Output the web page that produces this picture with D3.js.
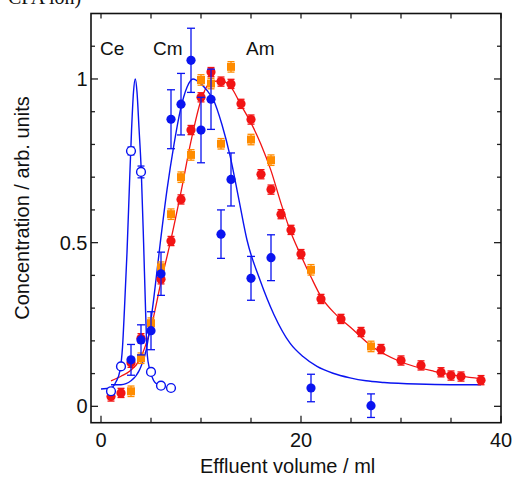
<!DOCTYPE html>
<html>
<head>
<meta charset="utf-8">
<script src="https://cdn.jsdelivr.net/npm/d3@7"></script>
<style>
  body { margin: 0; background: #fff; }
  svg { display: block; }
  text { font-family: "Liberation Sans", Arial, sans-serif; fill: #111; }
</style>
</head>
<body>
<svg id="chart" width="514" height="477"></svg>
<script>
// Am (red circles): [volume ml, concentration]
const amRed = [
  [1, 0.030], [2, 0.041], [3, 0.133], [4, 0.208], [6, 0.388], [7, 0.505],
  [8, 0.632], [9, 0.844], [10, 0.944], [11, 1.021], [12, 0.992], [13, 0.985],
  [14, 0.924], [15, 0.876], [16, 0.709], [17, 0.662], [18, 0.587], [19, 0.539],
  [20, 0.465], [22, 0.328], [24, 0.267], [26, 0.227], [28, 0.175], [30, 0.140],
  [32, 0.125], [34, 0.104], [35, 0.094], [36, 0.091], [38, 0.080]
];
// Am second run (orange squares)
const amOrange = [
  [3, 0.046], [4, 0.147], [5, 0.254], [6, 0.425], [7, 0.587], [8, 0.700],
  [9, 0.768], [10, 0.997], [11, 0.986], [12, 0.802], [13, 1.037], [15, 0.815],
  [17, 0.752], [21, 0.417], [27, 0.183]
];
// Cm (blue filled): [volume, conc, error]
const cmBlue = [
  [3, 0.142, 0.047], [4, 0.203, 0.046], [5, 0.231, 0.058], [6, 0.405, 0.066],
  [7, 0.877, 0.090], [8, 0.923, 0.094], [9, 1.057, 0.098], [10, 0.844, 0.100],
  [11, 0.938, 0.092], [12, 0.526, 0.074], [13, 0.693, 0.081], [15, 0.391, 0.067],
  [17, 0.454, 0.070], [21, 0.056, 0.042], [27, 0.002, 0.036]
];
// Ce (blue open): [volume, conc, error]
const ceOpen = [
  [1, 0.046, 0], [2, 0.122, 0], [3, 0.780, 0.012], [4, 0.716, 0.018],
  [5, 0.105, 0], [6, 0.063, 0], [7, 0.056, 0]
];

// fitted curves
const ceFit = [
  [0, 0.053], [1.0, 0.056], [1.5, 0.075], [1.9, 0.11], [2.15, 0.18], [2.35, 0.30],
  [2.6, 0.47], [2.85, 0.68], [3.05, 0.84], [3.25, 0.96], [3.43, 1.0], [3.6, 0.96],
  [3.8, 0.85], [4.03, 0.716], [4.26, 0.50], [4.45, 0.30], [4.62, 0.16], [4.85, 0.115],
  [5.1, 0.09], [5.5, 0.07], [6.1, 0.065]
];
const cmFit = [
  [1.0, 0.066], [2.0, 0.066], [3.0, 0.078], [3.86, 0.112], [4.53, 0.173], [4.86, 0.234],
  [5.26, 0.325], [5.93, 0.50], [6.6, 0.661], [7.3, 0.80], [7.93, 0.904], [8.6, 0.975],
  [9.2, 1.0], [10.0, 0.985], [10.6, 0.965], [11.26, 0.935], [12.1, 0.86], [12.93, 0.762],
  [13.8, 0.63], [14.6, 0.508], [15.9, 0.386], [17.3, 0.28], [18.9, 0.193], [20.2, 0.152],
  [21.6, 0.122], [23.2, 0.101], [24.9, 0.087], [26.5, 0.078], [28.3, 0.073], [31.6, 0.068],
  [35, 0.066], [38, 0.066]
];
const amFit = [
  [1.0, 0.078], [2.0, 0.092], [2.86, 0.107], [3.86, 0.142], [4.5, 0.19], [5.0, 0.24],
  [6.0, 0.38], [7.0, 0.51], [8.0, 0.655], [9.0, 0.81], [10.0, 0.935], [11.0, 0.99],
  [12.0, 0.994], [13.0, 0.975], [14.0, 0.92], [15.0, 0.866], [16.0, 0.80], [17.0, 0.72],
  [18.0, 0.62], [19.0, 0.53], [20.0, 0.46], [21.0, 0.395], [22.0, 0.335], [23.5, 0.28],
  [25.0, 0.24], [27.0, 0.185], [29.9, 0.137], [33.3, 0.107], [36, 0.092], [38, 0.084]
];

const xTicks = [0, 5, 10, 15, 20, 25, 30, 35, 40];
const xLabels = [0, 20, 40];
const yTicks = [0, 0.1, 0.2, 0.3, 0.4, 0.5, 0.6, 0.7, 0.8, 0.9, 1.0, 1.1];
const yLabels = [0, 0.5, 1];
const peakLabels = [["Ce", 100], ["Cm", 153], ["Am", 246]];

const blue = '#0a14f0', red = '#f21414', orange = '#ff8c00';

const svg = d3.select('#chart');
const box = { left: 91, right: 501, top: 13.5, bottom: 422.7 };

const x = d3.scaleLinear().domain([-1, 40]).range([box.left, box.right]);
const y = d3.scaleLinear().domain([-0.05, 1.2]).range([box.bottom, box.top]);

// clipped caption remnant at very top
svg.append('text')
  .attr('x', 8).attr('y', 4)
  .style('font-family', '"Liberation Serif", serif')
  .style('font-size', '20px')
  .text('CPA ion)');

// axes, ticks inward
const axisG = svg.append('g');
xTicks.forEach(t => {
  const len = xLabels.includes(t) ? 7 : 5;
  axisG.append('line').attr('x1', x(t)).attr('x2', x(t))
    .attr('y1', box.bottom).attr('y2', box.bottom - len).attr('stroke', '#222').attr('stroke-width', 1.3);
  axisG.append('line').attr('x1', x(t)).attr('x2', x(t))
    .attr('y1', box.top).attr('y2', box.top + 5).attr('stroke', '#222').attr('stroke-width', 1.3);
});
yTicks.forEach(t => {
  const len = yLabels.includes(t) ? 7 : 4;
  axisG.append('line').attr('y1', y(t)).attr('y2', y(t))
    .attr('x1', box.left).attr('x2', box.left + len).attr('stroke', '#222').attr('stroke-width', 1.3);
  axisG.append('line').attr('y1', y(t)).attr('y2', y(t))
    .attr('x1', box.right).attr('x2', box.right - len).attr('stroke', '#222').attr('stroke-width', 1.3);
});
axisG.append('rect')
  .attr('x', box.left).attr('y', box.top)
  .attr('width', box.right - box.left).attr('height', box.bottom - box.top)
  .attr('fill', 'none').attr('stroke', '#111').attr('stroke-width', 1.6);

xLabels.forEach(t => {
  svg.append('text').attr('x', x(t)).attr('y', 446.5)
    .attr('text-anchor', 'middle').style('font-size', '20px').text(t);
});
yLabels.forEach(t => {
  svg.append('text').attr('x', 87.5).attr('y', y(t) + 7)
    .attr('text-anchor', 'end').style('font-size', '20px').text(t);
});

svg.append('text').attr('x', 200).attr('y', 473)
  .style('font-size', '20px').text('Effluent volume / ml');
svg.append('text')
  .attr('transform', 'translate(29,208) rotate(-90)')
  .attr('text-anchor', 'middle').style('font-size', '20px')
  .text('Concentration / arb. units');

peakLabels.forEach(([name, px]) => {
  svg.append('text').attr('x', px).attr('y', 55)
    .style('font-size', '19px').text(name);
});

// fitted curves
const line = d3.line().x(d => x(d[0])).y(d => y(d[1])).curve(d3.curveMonotoneX);
const curves = svg.append('g').attr('fill', 'none');
curves.append('path').datum(amFit).attr('d', line).attr('stroke', red).attr('stroke-width', 1.3);
curves.append('path').datum(cmFit).attr('d', line).attr('stroke', blue).attr('stroke-width', 1.4);
curves.append('path').datum(ceFit).attr('d', line).attr('stroke', blue).attr('stroke-width', 1.4);

function errBar(g, cx, cy, err, color, cap) {
  if (!err) return;
  g.append('line').attr('x1', cx).attr('x2', cx)
    .attr('y1', y(cy - err)).attr('y2', y(cy + err))
    .attr('stroke', color).attr('stroke-width', 1.3);
  [cy - err, cy + err].forEach(v => {
    g.append('line').attr('x1', cx - cap).attr('x2', cx + cap)
      .attr('y1', y(v)).attr('y2', y(v))
      .attr('stroke', color).attr('stroke-width', 1.3);
  });
}

// orange squares
const og = svg.append('g');
amOrange.forEach(d => {
  errBar(og, x(d[0]), d[1], 0.016, orange, 3.5);
  og.append('rect').attr('x', x(d[0]) - 4).attr('y', y(d[1]) - 4)
    .attr('width', 8).attr('height', 8).attr('fill', orange);
});

// red circles
const rg = svg.append('g');
amRed.forEach(d => {
  errBar(rg, x(d[0]), d[1], 0.014, red, 3.5);
  rg.append('circle').attr('cx', x(d[0])).attr('cy', y(d[1])).attr('r', 4.6).attr('fill', red);
});

// blue filled
const bg = svg.append('g');
cmBlue.forEach(d => {
  errBar(bg, x(d[0]), d[1], d[2], blue, 4);
  bg.append('circle').attr('cx', x(d[0])).attr('cy', y(d[1])).attr('r', 4.6).attr('fill', blue);
});

// blue open
const cg = svg.append('g');
ceOpen.forEach(d => {
  errBar(cg, x(d[0]), d[1], d[2], blue, 3.5);
  cg.append('circle').attr('cx', x(d[0])).attr('cy', y(d[1])).attr('r', 4.4)
    .attr('fill', '#fff').attr('stroke', blue).attr('stroke-width', 1.4);
});
</script>
</body>
</html>
